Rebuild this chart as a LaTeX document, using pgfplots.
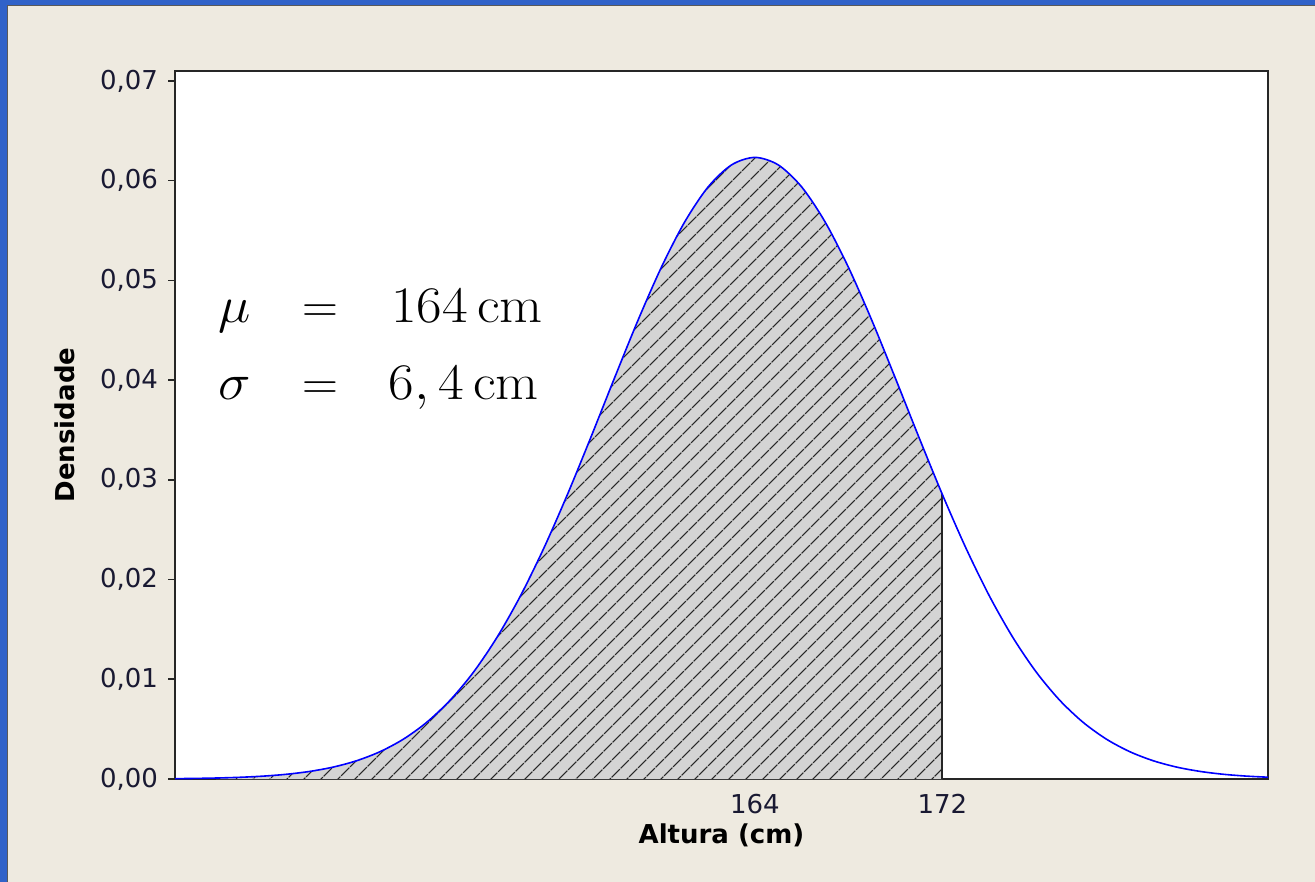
\documentclass[border=0pt]{standalone}
\usepackage[no-math]{fontspec}
\setmainfont{DejaVu Sans}
\usepackage{pgfplots}
\pgfplotsset{compat=1.18}
\usepackage{pgfplotstable}
\usetikzlibrary{patterns.meta}

\definecolor{winblue}{RGB}{48,98,201}
\definecolor{beige}{RGB}{238,234,224}
\definecolor{fillgray}{RGB}{212,212,212}
\definecolor{ticktext}{RGB}{25,25,50}

% normal density, mean 164, sd 6.4
\pgfplotstableread{
x y
139 0.0000303
140 0.0000551
141 0.0000978
142 0.000169
143 0.000286
144 0.000472
145 0.000760
146 0.001194
147 0.001831
148 0.002739
149 0.003999
150 0.005697
151 0.007921
152 0.010748
153 0.014232
154 0.018390
155 0.023191
156 0.028539
157 0.034274
158 0.040168
159 0.045942
160 0.051275
161 0.055849
162 0.059364
163 0.061579
164 0.062335
165 0.061579
166 0.059364
167 0.055849
168 0.051275
169 0.045942
170 0.040168
171 0.034274
172 0.028539
173 0.023191
174 0.018390
175 0.014232
176 0.010748
177 0.007921
178 0.005697
179 0.003999
180 0.002739
181 0.001831
182 0.001194
183 0.000760
184 0.000472
185 0.000286
186 0.000169
}\curvetable

\pgfplotstableread{
x y
141 0.0000978
142 0.000169
143 0.000286
144 0.000472
145 0.000760
146 0.001194
147 0.001831
148 0.002739
149 0.003999
150 0.005697
151 0.007921
152 0.010748
153 0.014232
154 0.018390
155 0.023191
156 0.028539
157 0.034274
158 0.040168
159 0.045942
160 0.051275
161 0.055849
162 0.059364
163 0.061579
164 0.062335
165 0.061579
166 0.059364
167 0.055849
168 0.051275
169 0.045942
170 0.040168
171 0.034274
172 0.028539
}\filltable

\begin{document}
\begin{tikzpicture}
\path[use as bounding box] (0,0) rectangle (657.5pt,441pt);
\fill[beige] (0,0) rectangle (657.5pt,441pt);
\fill[winblue] (0,0) rectangle (3.5pt,441pt);
\fill[winblue] (0,438.5pt) rectangle (657.5pt,441pt);
\draw[black!65, line width=0.6pt] (3.8pt,0) -- (3.8pt,438.2pt) -- (657.5pt,438.2pt);

\begin{axis}[
  at={(87.5pt,51.5pt)}, anchor=south west,
  scale only axis, width=546.5pt, height=354pt,
  xmin=139.25, xmax=185.9, ymin=0, ymax=0.0710,
  xtick={164,172},
  ytick={0,0.01,0.02,0.03,0.04,0.05,0.06,0.07},
  tick pos=left,
  scaled y ticks=false,
  /pgf/number format/assume math mode=true,
  yticklabel style={/pgf/number format/fixed, /pgf/number format/fixed zerofill, /pgf/number format/precision=2, /pgf/number format/use comma, xshift=-1.5pt},
  axis background/.style={fill=white},
  axis line style={black!85, line width=1pt},
  tick align=outside,
  major tick length=3.5pt,
  xtick style={draw=none},
  ytick style={black!85, line width=0.8pt},
  ticklabel style={font=\fontsize{13}{15}\selectfont, text=ticktext},
  xticklabel style={yshift=-0.5pt},
  xlabel={Altura (cm)},
  ylabel={Densidade},
  label style={font=\bfseries\fontsize{13}{15}\selectfont},
  xlabel style={at={(axis description cs:0.5,-0.0792)}, anchor=center},
  ylabel style={at={(axis description cs:-0.1006,0.5)}, anchor=center},
]
\addplot[fill=fillgray, draw=none, smooth] table {\filltable} \closedcycle;
\addplot[draw=none, smooth, pattern={Lines[angle=45,distance=6.5pt,line width=0.7pt]}, pattern color=black!85] table {\filltable} \closedcycle;
\addplot[black!85, line width=1pt] coordinates {(172,0) (172,0.028539)};
\addplot[blue, line width=0.8pt, smooth] table {\curvetable};
\end{axis}

\node[anchor=base west, inner sep=0, xscale=1.1, yscale=1.03] at (109pt,279.5pt) {\Huge$\mu$};
\node[anchor=base west, inner sep=0] at (151pt,279.5pt) {\Huge$=$};
\node[anchor=base west, inner sep=0, xscale=1.12, yscale=1.03] at (195.5pt,279.5pt) {\Huge$164\,\mathrm{cm}$};
\node[anchor=base west, inner sep=0, xscale=1.1, yscale=1.03] at (109pt,241pt) {\Huge$\sigma$};
\node[anchor=base west, inner sep=0] at (151pt,241pt) {\Huge$=$};
\node[anchor=base west, inner sep=0, xscale=1.12, yscale=1.03] at (194pt,241pt) {\Huge$6,4\,\mathrm{cm}$};
\end{tikzpicture}
\end{document}
